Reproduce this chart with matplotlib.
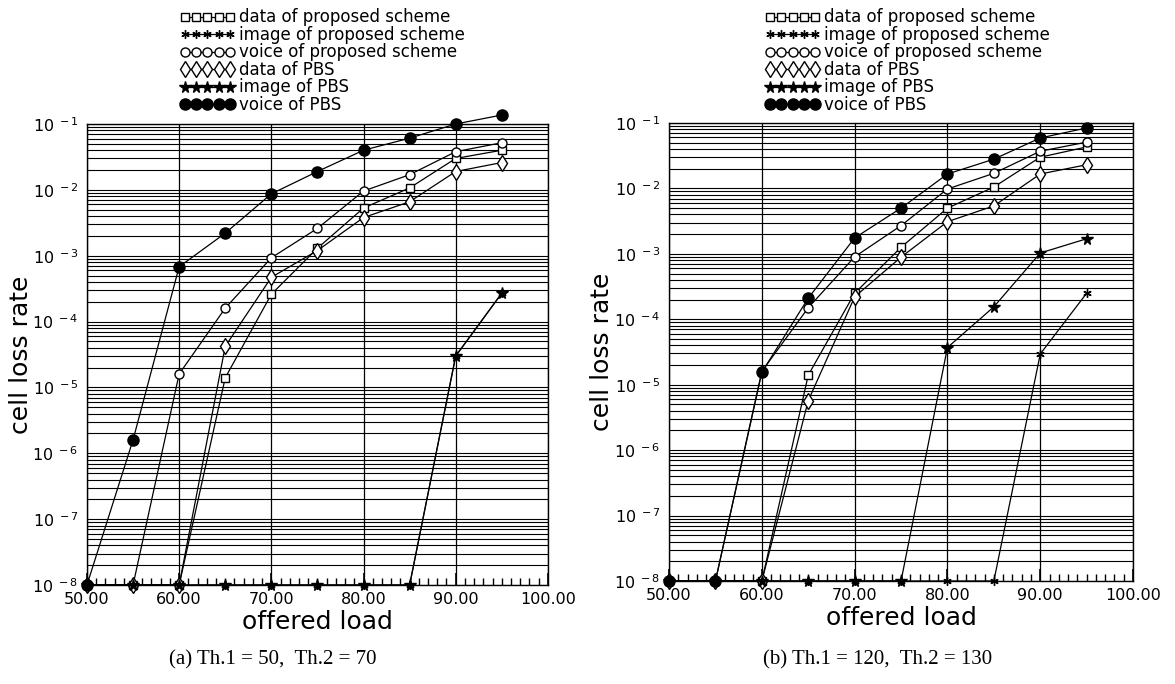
import numpy as np
import matplotlib
matplotlib.use('Agg')
import matplotlib.pyplot as plt
from matplotlib.ticker import FixedLocator, FixedFormatter, MultipleLocator, NullFormatter, LogLocator

# carga oferecida (eixo x)
loads = [50, 55, 60, 65, 70, 75, 80, 85, 90, 95]

# (a) Th.1 = 50, Th.2 = 70  -- 1e-8 = chao do grafico
data_prop_a = [1e-8, 1e-8, 1e-8, 1.4e-5, 2.6e-4, 1.3e-3, 5.3e-3, 1.07e-2, 3.0e-2, 4.0e-2]
image_prop_a = [1e-8, 1e-8, 1e-8, 1e-8, 1e-8, 1e-8, 1e-8, 1e-8, 3.0e-5, 2.7e-4]
voice_prop_a = [1e-8, 1e-8, 1.6e-5, 1.6e-4, 9.3e-4, 2.6e-3, 9.6e-3, 1.7e-2, 3.8e-2, 5.2e-2]
data_pbs_a = [1e-8, 1e-8, 1e-8, 4.2e-5, 4.7e-4, 1.2e-3, 3.8e-3, 6.6e-3, 1.9e-2, 2.6e-2]
image_pbs_a = [1e-8, 1e-8, 1e-8, 1e-8, 1e-8, 1e-8, 1e-8, 1e-8, 3.0e-5, 2.7e-4]
voice_pbs_a = [1e-8, 1.6e-6, 6.8e-4, 2.2e-3, 8.7e-3, 1.9e-2, 4.0e-2, 6.1e-2, 1.0e-1, 1.37e-1]

# (b) Th.1 = 120, Th.2 = 130
data_prop_b = [1e-8, 1e-8, 1e-8, 1.4e-5, 2.5e-4, 1.26e-3, 5.0e-3, 1.05e-2, 3.0e-2, 4.3e-2]
image_prop_b = [1e-8, 1e-8, 1e-8, 1e-8, 1e-8, 1e-8, 1e-8, 1e-8, 2.95e-5, 2.5e-4]
voice_prop_b = [1e-8, 1e-8, 1.6e-5, 1.5e-4, 9.0e-4, 2.7e-3, 9.8e-3, 1.7e-2, 3.7e-2, 5.1e-2]
data_pbs_b = [1e-8, 1e-8, 1e-8, 5.7e-6, 2.2e-4, 8.9e-4, 3.1e-3, 5.4e-3, 1.66e-2, 2.3e-2]
image_pbs_b = [1e-8, 1e-8, 1e-8, 1e-8, 1e-8, 1e-8, 3.7e-5, 1.55e-4, 1.03e-3, 1.7e-3]
voice_pbs_b = [1e-8, 1e-8, 1.55e-5, 2.1e-4, 1.75e-3, 5.0e-3, 1.66e-2, 2.8e-2, 5.9e-2, 8.4e-2]

labels = ['data of proposed scheme', 'image of proposed scheme', 'voice of proposed scheme',
          'data of PBS', 'image of PBS', 'voice of PBS']
decade_ticks = [1e-8, 1e-7, 1e-6, 1e-5, 1e-4, 1e-3, 1e-2, 1e-1]
decade_labels = [r'$10^{\ -8}$', r'$10^{\ -7}$', r'$10^{\ -6}$', r'$10^{\ -5}$',
                 r'$10^{\ -4}$', r'$10^{\ -3}$', r'$10^{\ -2}$', r'$10^{\ -1}$']
x_ticks = [50, 60, 70, 80, 90, 100]
x_labels = ['50.00', '60.00', '70.00', '80.00', '90.00', '100.00']

estilos = [
    dict(marker='s', ms=6, mfc='white', mec='black'),
    dict(marker=(6, 2, 0), ms=6, mfc='black', mec='black', mew=1.0),
    dict(marker='o', ms=6.5, mfc='white', mec='black'),
    dict(marker='d', ms=8, mfc='white', mec='black'),
    dict(marker='*', ms=8.5, mfc='black', mec='black'),
    dict(marker='o', ms=8, mfc='black', mec='black'),
]

plt.rcParams['font.family'] = ['DejaVu Sans']
plt.rcParams['mathtext.default'] = 'regular'

fig = plt.figure(figsize=(11.75, 6.84), dpi=100)
ax_a = fig.add_axes([0.0740, 0.1447, 0.3923, 0.6740])
ax_b = fig.add_axes([0.5694, 0.1506, 0.3949, 0.6696])


def desenha(ax, series, caption, cap_x, legend_x):
    for s, est, lab in zip(series, estilos, labels):
        ax.plot(loads, s, color='black', lw=0.9, label=lab, clip_on=False, zorder=3, **est)
    ax.set_yscale('log')
    ax.set_ylim(1e-8, 1e-1)
    ax.set_xlim(50, 100)
    ax.yaxis.set_major_locator(FixedLocator(decade_ticks))
    ax.yaxis.set_major_formatter(FixedFormatter(decade_labels))
    ax.yaxis.set_minor_locator(LogLocator(base=10, subs=np.arange(2, 10), numticks=20))
    ax.yaxis.set_minor_formatter(NullFormatter())
    ax.grid(True, which='both', axis='y', color='black', lw=0.8)
    ax.grid(True, which='major', axis='x', color='black', lw=0.9)
    ax.set_axisbelow(True)
    ax.xaxis.set_major_locator(FixedLocator(x_ticks))
    ax.xaxis.set_major_formatter(FixedFormatter(x_labels))
    ax.xaxis.set_minor_locator(MultipleLocator(1))
    ax.tick_params(axis='x', which='major', direction='in', length=9, width=1.2, labelsize=11.5, pad=5)
    ax.tick_params(axis='x', which='minor', direction='in', length=5, width=1.0)
    ax.tick_params(axis='y', which='both', length=0, labelsize=11.5, pad=6)
    for sp in ax.spines.values():
        sp.set_linewidth(1.0)
    ax.set_xlabel('offered load', fontsize=18, labelpad=2)
    ax.set_ylabel('cell loss rate', fontsize=18)
    ax.yaxis.set_label_coords(-0.118, 0.5)
    fig.text(cap_x, 0.035, caption, family='Liberation Serif', fontsize=15, ha='center', va='center')
    fig.legend(loc='upper left', bbox_to_anchor=(legend_x, 1.0), numpoints=5, handlelength=3.3,
               handletextpad=0.25, labelspacing=-0.03, fontsize=12, frameon=False,
               borderaxespad=0.2, borderpad=0.3,
               handles=ax.get_lines())


desenha(ax_a, [data_prop_a, image_prop_a, voice_prop_a, data_pbs_a, image_pbs_a, voice_pbs_a],
        '(a) Th.1 = 50,  Th.2 = 70', 0.232, 0.146)
desenha(ax_b, [data_prop_b, image_prop_b, voice_prop_b, data_pbs_b, image_pbs_b, voice_pbs_b],
        '(b) Th.1 = 120,  Th.2 = 130', 0.747, 0.644)

fig.savefig('out.png', dpi=100)
